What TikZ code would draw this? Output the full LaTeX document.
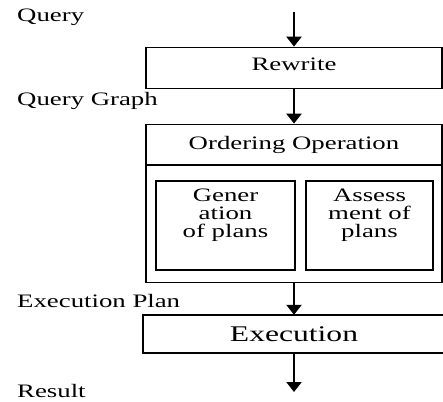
\documentclass[tikz,border=0pt]{standalone}
\usepackage{fontspec}
\setmainfont{Liberation Serif}[FakeStretch=1.41]
\usetikzlibrary{positioning}
\usetikzlibrary{arrows.meta}

\begin{document}
\begin{tikzpicture}[x=1pt,y=-1pt,
    lbl/.style={anchor=west, inner sep=0pt, font=\fontsize{19}{20}\selectfont},
    stage/.style={draw, line width=1.8pt, minimum width=296pt, minimum height=41pt, inner sep=0pt, font=\fontsize{19}{20}\selectfont},
    head/.style={minimum width=296pt, minimum height=40.5pt, inner sep=0pt, font=\fontsize{19}{20}\selectfont},
    inbox/.style={draw, line width=2.4pt, minimum height=89pt, inner sep=0pt},
    intext/.style={align=center, inner sep=0pt, font=\fontsize{19}{17.8}\selectfont},
    exec/.style={minimum width=302pt, minimum height=38pt, inner sep=0pt, font=\fontsize{22.4}{24}\selectfont},
    rule/.style={line width=1.8pt},
    flow/.style={line width=2.4pt, -{Triangle[width=15pt,length=10pt]}}]
            \useasboundingbox (0,0) rectangle (443,401);
            % Labels on the left
            \node[lbl] (query) at (17,17) {Query};
            \node[lbl] (qgraph) at (17,101) {Query Graph};
            \node[lbl] (eplan) at (17,301) {Execution Plan};
            \node[lbl] (result) at (17,391) {Result};
            % Stages
            \node[stage, text depth=8pt] (rewrite) at (294,68) {Rewrite};
            \node[stage, minimum height=158pt] (order) at (294,203.5) {};
            \node[head] (orderhead) at (294,144.75) {Ordering Operation};
            \draw[rule] (orderhead.south west) -- (orderhead.south east);
            \node[inbox, minimum width=139pt] (gen) at (225.5,225.5) {};
            \node[inbox, minimum width=127pt] (assess) at (369.5,225.5) {};
            \node[intext, below=9pt of gen.north] (gentext) {Gener\\ation\\of plans};
            \node[intext, below=9pt of assess.north] (assesstext) {Assess\\ment of\\plans};
            \node[exec] (execution) at (294,334) {Execution};
            \draw[rule, line width=2.4pt] (execution.north east) -| (execution.south west) -- (execution.south east);
            % Flow
            \coordinate (start) at (294,12);
            \coordinate (finish) at (294,392);
            \draw[flow] (start) -- (rewrite);
            \draw[flow] (rewrite) -- (order);
            \draw[flow] (order) -- (execution);
            \draw[flow] (execution) -- (finish);
        \end{tikzpicture}
\end{document}
